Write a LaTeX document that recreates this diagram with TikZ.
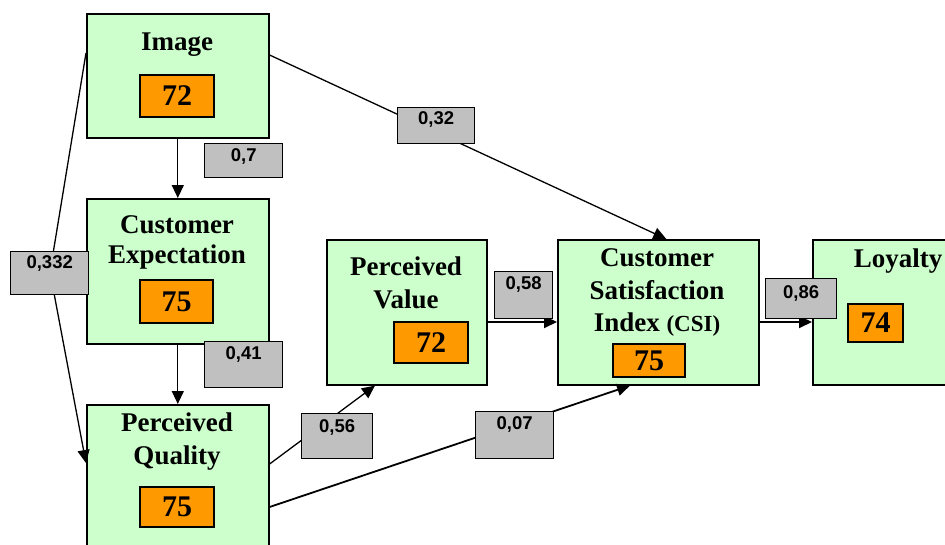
\documentclass[tikz,border=0pt]{standalone}
\usepackage{fontspec}
\setmainfont{Liberation Serif}
\newfontfamily\arialfont{Liberation Sans}
\usetikzlibrary{arrows.meta,calc}
\definecolor{boxgreen}{HTML}{CCFFCC}
\definecolor{boxorange}{HTML}{FF9900}
\definecolor{boxgray}{HTML}{C0C0C0}
\begin{document}
\begin{tikzpicture}[x=1pt,y=-1pt,
  greenbox/.style={draw=black, line width=1.6pt, fill=boxgreen, anchor=north west, inner sep=0pt},
  title/.style={font=\fontsize{27}{32}\selectfont\bfseries, align=center, inner sep=0pt},
  valbox/.style={draw=black, line width=1.4pt, fill=boxorange, inner sep=0pt, font=\fontsize{30}{30}\selectfont\bfseries},
  coef/.style={draw=black, line width=1.4pt, fill=boxgray, anchor=north west, inner sep=0pt, font=\arialfont\fontsize{18.5}{18.5}\selectfont\bfseries},
  conn/.style={line width=1.3pt, -{Triangle[length=13pt,width=12pt]}},
  thickconn/.style={line width=1.8pt, -{Triangle[length=13pt,width=12pt]}},
]
\useasboundingbox (0,0) rectangle (945,544);
\clip (0,0) rectangle (945,544);

% green boxes
\node[greenbox, minimum width=182pt, minimum height=124pt] (img) at (86,13) {};
\node[greenbox, minimum width=182pt, minimum height=145pt] (ce) at (86,198) {};
\node[greenbox, minimum width=182pt, minimum height=160pt] (pq) at (86,404) {};
\node[greenbox, minimum width=160pt, minimum height=145pt] (pv) at (326,239) {};
\node[greenbox, minimum width=201pt, minimum height=145pt] (csi) at (557,239) {};
\node[greenbox, minimum width=172pt, minimum height=145pt] (loy) at (812,239) {};

% titles
\node[title, anchor=base] (imgT) at (177,50) {Image};
\node[title, font=\fontsize{27}{30}\selectfont\bfseries] (ceT) at (177,242) {Customer\\Expectation};
\node[title, font=\fontsize{27}{33}\selectfont\bfseries] (pqT) at (177,442) {Perceived\\Quality};
\node[title, font=\fontsize{27}{33}\selectfont\bfseries] (pvT) at (406,283) {Perceived\\Value};
\node[title, font=\fontsize{27}{32.5}\selectfont\bfseries] (csiT) at (657,293) {Customer\\Satisfaction\\Index {\fontsize{23}{23}\selectfont(CSI)}};
\node[title, anchor=base] (loyT) at (898,267) {Loyalty};

% values
\node[valbox, minimum width=74pt, minimum height=42pt] (imgV) at (177,96) {72};
\node[valbox, minimum width=73pt, minimum height=43pt] (ceV) at (176.5,301.5) {75};
\node[valbox, minimum width=74pt, minimum height=40pt] (pqV) at (177,507) {75};
\node[valbox, minimum width=74pt, minimum height=41pt] (pvV) at (431,342.5) {72};
\node[valbox, minimum width=72pt, minimum height=33pt] (csiV) at (649,360.5) {75};
\node[valbox, minimum width=55pt, minimum height=38pt] (loyV) at (875.5,323) {74};

% connectors
\coordinate (bendA) at (50,272);
\draw[conn] (img.south) -- (ce.north);
\draw[conn] (ce.south) -- (pq.north);
\draw[conn] ($(img.north west)+(0,40)$) -- (bendA) -- ($(pq.north west)+(0,59)$);
\draw[conn] ($(img.north east)+(0,42)$) -- ($(csi.north)+(8,0)$);
\draw[conn] ($(pq.north east)+(0,60)$) -- ($(pv.south west)+(49,0)$);
\draw[thickconn] ($(pq.north east)+(0,103)$) -- ($(csi.south west)+(73,0)$);
\draw[thickconn] ($(pv.north east)+(0,83)$) -- ($(csi.north west)+(0,83)$);
\draw[thickconn] ($(csi.north east)+(0,83)$) -- ($(loy.north west)+(0,83)$);

% coefficients
\node[coef, minimum width=78pt, text height=18pt, text depth=16pt] (c1) at (204,143) {0,7};
\node[coef, minimum width=77pt, text height=17pt, text depth=19pt] (c2) at (397,107) {0,32};
\node[coef, minimum width=78pt, text height=17pt, text depth=26pt] (c3) at (10,251) {0,332};
\node[coef, minimum width=78pt, text height=18pt, text depth=28pt] (c4) at (204,341) {0,41};
\node[coef, minimum width=58pt, text height=18pt, text depth=29pt] (c5) at (494,271) {0,58};
\node[coef, minimum width=71pt, text height=19pt, text depth=26pt] (c6) at (301,413) {0,56};
\node[coef, minimum width=78pt, text height=18pt, text depth=29pt] (c7) at (475,411) {0,07};
\node[coef, minimum width=71pt, text height=20pt, text depth=20pt] (c8) at (765,278) {0,86};
\end{tikzpicture}
\end{document}
